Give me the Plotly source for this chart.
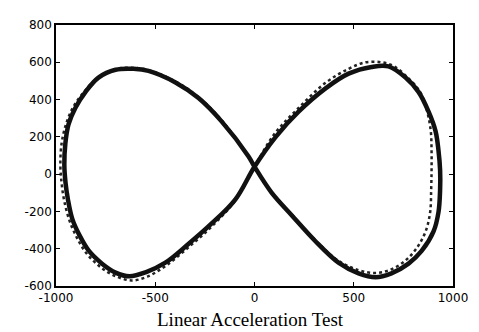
import plotly.graph_objects as go

# Pass 1 (main, dense trace)
pass1_x = [0, -30, -166, -282, -398, -534, -610, -700, -786, -852, -902, -937, -953, -958, -952,
           -940, -918, -884, -834, -768, -700, -630, -549, -449, -333, -217, -96, 0,
           106, 222, 358, 474, 590, 675, 761, 827, 877, 912, 927, 935, 935, 927, 902, 842,
           776, 690, 610, 524, 423, 307, 186, 86, 0]
pass1_y = [40, 95, 283, 408, 492, 554, 565, 560, 518, 440, 356, 267, 163, 50, -46,
           -135, -240, -323, -412, -480, -528, -548, -527, -475, -375, -266, -135, 40,
           199, 335, 460, 539, 575, 578, 518, 440, 335, 231, 126, 22, -83, -203, -307, -412,
           -480, -532, -553, -532, -475, -360, -219, -99, 40]

# Pass 2 (secondary, dotted trace)
pass2_x = [0, -30, -166, -282, -398, -534, -610, -700, -786, -860, -915, -950, -972, -978, -972,
           -960, -935, -900, -850, -780, -705, -620, -540, -445, -330, -210, -96, 0,
           100, 222, 358, 474, 560, 640, 700, 770, 835, 870, 888, 892, 892, 890, 885, 862,
           815, 755, 680, 605, 524, 423, 307, 186, 86, 0]
pass2_y = [40, 95, 290, 413, 497, 558, 570, 563, 520, 440, 356, 267, 163, 50, -46,
           -135, -240, -330, -420, -495, -545, -570, -550, -490, -390, -275, -140, 40,
           215, 355, 490, 565, 600, 600, 580, 520, 440, 335, 231, 126, 22, -83, -203, -307,
           -400, -468, -515, -530, -515, -465, -355, -215, -99, 40]

x_ticks = [-1000, -500, 0, 500, 1000]
x_tick_labels = ["-1000", "-500", "0", "500", "1000"]
y_ticks = [-600, -400, -200, 0, 200, 400, 600, 800]
y_tick_labels = ["-600", "-400", "-200", "0", "200", "400", "600", "800"]
x_title = "Linear Acceleration Test"

fig = go.Figure()
fig.add_trace(go.Scatter(x=pass2_x, y=pass2_y, mode="lines",
                         line=dict(color="#222", width=2.5, dash="dot", shape="spline"),
                         showlegend=False))
fig.add_trace(go.Scatter(x=pass1_x, y=pass1_y, mode="lines",
                         line=dict(color="#111", width=4.5, shape="spline"),
                         showlegend=False))

axis_common = dict(showline=True, linecolor="black", linewidth=1.5, mirror="ticks",
                   ticks="inside", ticklen=4, tickwidth=1.2, tickcolor="black",
                   showgrid=False, zeroline=False,
                   tickfont=dict(family="DejaVu Sans", size=12, color="black"))

fig.update_xaxes(range=[-1000, 1000], tickvals=x_ticks, ticktext=x_tick_labels, **axis_common)
fig.update_yaxes(range=[-600, 800], tickvals=y_ticks, ticktext=y_tick_labels, **axis_common)

fig.add_annotation(text=x_title, xref="paper", yref="paper", x=0.49, y=-0.128,
                   xanchor="center", yanchor="middle", showarrow=False,
                   font=dict(family="Liberation Serif", size=19, color="black"))

# page body has an 8px default margin, so the figure is sized to fit inside it
fig.update_layout(width=471, height=324, margin=dict(l=48, r=26, t=10, b=46),
                  paper_bgcolor="white", plot_bgcolor="white")

fig.write_html("out.html")
